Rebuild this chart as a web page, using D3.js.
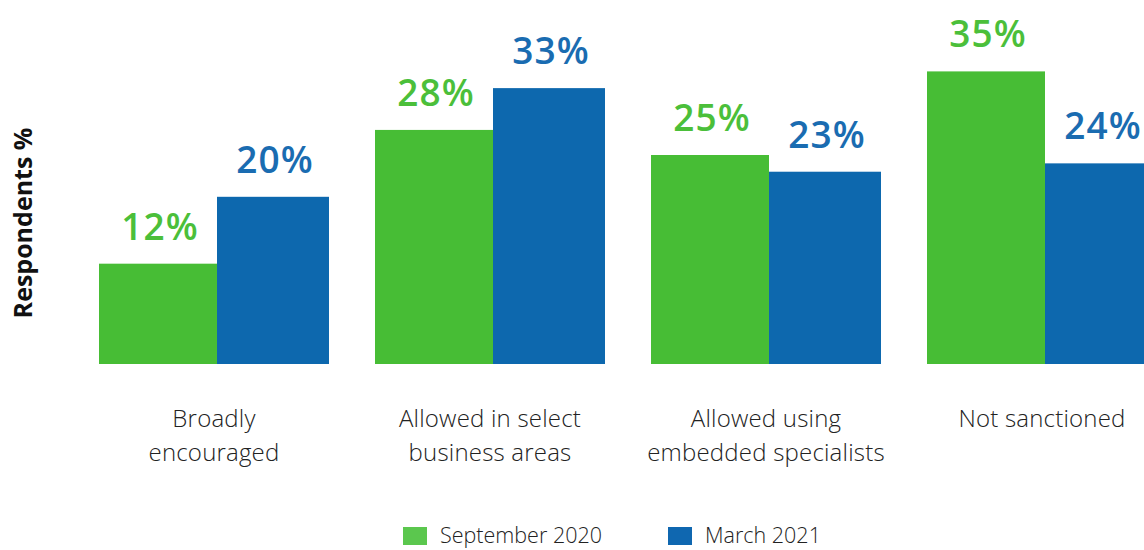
<!DOCTYPE html>
<html>
<head>
<meta charset="utf-8">
<script src="https://cdn.jsdelivr.net/npm/d3@7"></script>
<style>
  html, body { margin: 0; padding: 0; background: #ffffff; }
  svg { display: block; }
  text { font-family: "Open Sans", Lato, sans-serif; }
</style>
</head>
<body>
<svg id="chart" width="1144" height="550"></svg>
<script>
// Survey answers, two waves
const categories = [
  ["Broadly", "encouraged"],
  ["Allowed in select", "business areas"],
  ["Allowed using", "embedded specialists"],
  ["Not sanctioned"]
];
const seriesNames = ["September 2020", "March 2021"];
const sep2020 = [12, 28, 25, 35];
const mar2021 = [20, 33, 23, 24];
const valueSuffix = "%";

const svg = d3.select("#chart");

const barColors = ["#47bd35", "#0d68ae"];
const labelColors = ["#4bbf3a", "#1a6cb1"];
const legendColors = ["#5bc74e", "#0f67b0"];

const catKeys = categories.map((c, i) => i);
const x0 = d3.scaleBand().domain(catKeys).range([99, 99 + 276 * 4]).padding(0);
// inner layout: green bar then blue bar
const innerOffset = d3.scaleOrdinal().domain(seriesNames).range([0, 118]);
const innerWidth = d3.scaleOrdinal().domain(seriesNames).range([118, 112]);

const baseline = 364;
const y = d3.scaleLinear().domain([0, 40]).range([baseline, baseline - 40 * 8.36]);

const data = [];
categories.forEach((c, i) => {
  [sep2020, mar2021].forEach((arr, s) => {
    data.push({ cat: i, series: seriesNames[s], s, value: arr[i] });
  });
});

const g = svg.append("g");

g.selectAll("rect.bar")
  .data(data)
  .join("rect")
  .attr("class", "bar")
  .attr("x", d => x0(d.cat) + innerOffset(d.series))
  .attr("width", d => innerWidth(d.series))
  .attr("y", d => y(d.value))
  .attr("height", d => baseline - y(d.value))
  .attr("fill", d => barColors[d.s]);

g.selectAll("text.val")
  .data(data)
  .join("text")
  .attr("class", "val")
  .attr("x", d => x0(d.cat) + innerOffset(d.series) + innerWidth(d.series) / 2 + 2)
  .attr("y", d => y(d.value) - 24)
  .attr("text-anchor", "middle")
  .attr("font-size", 37)
  .attr("font-weight", 600)
  .attr("letter-spacing", 1)
  .attr("fill", d => labelColors[d.s])
  .text(d => d.value + valueSuffix);

// category labels under each group
const catG = g.selectAll("text.cat")
  .data(categories)
  .join("text")
  .attr("class", "cat")
  .attr("x", (d, i) => x0(i) + 115)
  .attr("y", 427)
  .attr("text-anchor", "middle")
  .attr("font-size", 24)
  .attr("font-weight", 300)
  .attr("letter-spacing", 0.2)
  .attr("fill", "#222222");
catG.selectAll("tspan")
  .data(d => d)
  .join("tspan")
  .attr("x", function () { return d3.select(this.parentNode).attr("x"); })
  .attr("dy", (d, j) => j === 0 ? 0 : 34)
  .text(d => d);

// axis title
svg.append("text")
  .attr("transform", "translate(32,223) rotate(-90)")
  .attr("text-anchor", "middle")
  .attr("font-size", 25)
  .attr("font-weight", 700)
  .attr("fill", "#111111")
  .text("Respondents %");

// legend
const legendX = [403, 668];
const leg = svg.selectAll("g.leg")
  .data(seriesNames)
  .join("g")
  .attr("class", "leg")
  .attr("transform", (d, i) => `translate(${legendX[i]},527)`);
leg.append("rect")
  .attr("width", 24)
  .attr("height", 18)
  .attr("fill", (d, i) => legendColors[i]);
leg.append("text")
  .attr("x", 37)
  .attr("y", 16)
  .attr("font-size", 21.5)
  .attr("font-weight", 300)
  .attr("fill", "#222222")
  .text(d => d);
</script>
</body>
</html>
